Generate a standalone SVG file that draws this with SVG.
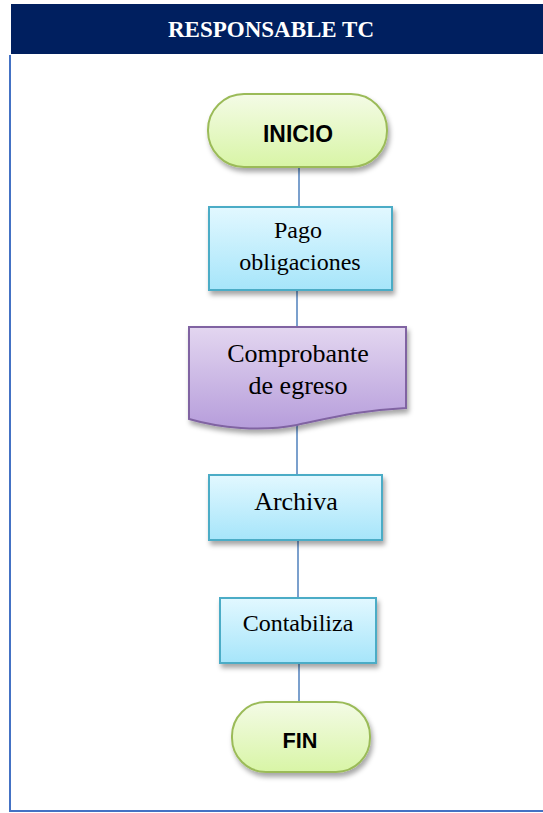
<svg xmlns="http://www.w3.org/2000/svg" width="543" height="813" viewBox="0 0 543 813">
<style>
.term{fill:url(#gTerm);stroke:#9bbb59;stroke-width:2}
.proc{fill:url(#gProc);stroke:#4bacc6;stroke-width:2}
.doc{fill:url(#gDoc);stroke:#8064a2;stroke-width:2}
.conn{stroke:#4f81bd;stroke-width:1.5;fill:none}
.tb{font-family:"Liberation Sans",Arial,sans-serif;font-weight:bold;fill:#000;text-anchor:middle}
.ts{font-family:"Liberation Serif","Times New Roman",serif;fill:#000;text-anchor:middle}
</style>
<defs>
<linearGradient id="gTerm" x1="0" y1="0" x2="0" y2="1"><stop offset="0" stop-color="#f4fbe6"/><stop offset="1" stop-color="#d8f5a6"/></linearGradient>
<linearGradient id="gProc" x1="0" y1="0" x2="0" y2="1"><stop offset="0" stop-color="#e2f8ff"/><stop offset="1" stop-color="#a6e5fa"/></linearGradient>
<linearGradient id="gDoc" x1="0" y1="0" x2="0" y2="1"><stop offset="0" stop-color="#e3d6f0"/><stop offset="1" stop-color="#b69ddb"/></linearGradient>
<filter id="sh" x="-20%" y="-20%" width="140%" height="150%"><feDropShadow dx="2" dy="4" stdDeviation="2.5" flood-color="#000" flood-opacity="0.35"/></filter>
</defs>
<rect x="0" y="0" width="543" height="813" fill="#fff"/>
<rect x="11" y="4" width="532" height="50" fill="#001f5f"/>
<text x="271" y="37" font-family="Liberation Serif,'Times New Roman',serif" font-weight="bold" font-size="23" fill="#fff" text-anchor="middle" textLength="206" lengthAdjust="spacingAndGlyphs">RESPONSABLE TC</text>
<line x1="10" y1="55" x2="10" y2="811" stroke="#4472c4" stroke-width="2"/>
<line x1="9" y1="811" x2="543" y2="811" stroke="#4472c4" stroke-width="2"/>
<g id="connectors">
<line class="conn" x1="299" y1="167" x2="299" y2="207"/>
<line class="conn" x1="297" y1="290" x2="297" y2="327"/>
<line class="conn" x1="297" y1="425" x2="297" y2="475"/>
<line class="conn" x1="298" y1="540" x2="298" y2="598"/>
<line class="conn" x1="299" y1="663" x2="299" y2="702"/>
</g>
<g id="inicio">
<rect class="term" x="208" y="94" width="179" height="73" rx="36" filter="url(#sh)"/>
<text class="tb" x="298" y="142" font-size="24" textLength="70" lengthAdjust="spacingAndGlyphs">INICIO</text>
</g>
<g id="pago">
<rect class="proc" x="209" y="207" width="183" height="83" filter="url(#sh)"/>
<text class="ts" x="298" y="238" font-size="24">Pago</text>
<text class="ts" x="300" y="270" font-size="24">obligaciones</text>
</g>
<g id="comprobante">
<path class="doc" d="M189,327 H406 V408 C360,410 330,418 297,425 C260,432 220,428 189,419 Z" filter="url(#sh)"/>
<text class="ts" x="298" y="362" font-size="26">Comprobante</text>
<text class="ts" x="298" y="394" font-size="26">de egreso</text>
</g>
<g id="archiva">
<rect class="proc" x="209" y="475" width="173" height="65" filter="url(#sh)"/>
<text class="ts" x="296" y="510" font-size="26">Archiva</text>
</g>
<g id="contabiliza">
<rect class="proc" x="220" y="598" width="156" height="65" filter="url(#sh)"/>
<text class="ts" x="298" y="631" font-size="24">Contabiliza</text>
</g>
<g id="fin">
<rect class="term" x="232" y="702" width="138" height="70" rx="34" filter="url(#sh)"/>
<text class="tb" x="300" y="748" font-size="22" textLength="35" lengthAdjust="spacingAndGlyphs">FIN</text>
</g>
</svg>
